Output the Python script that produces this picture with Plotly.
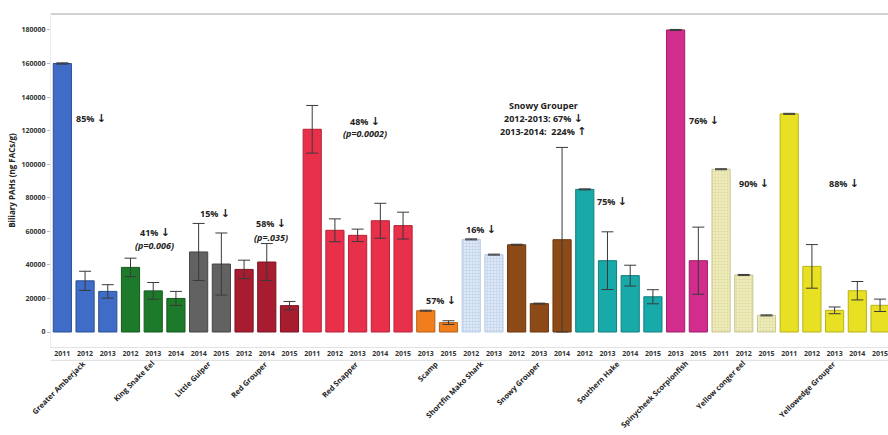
import plotly.graph_objects as go

species = ["Greater Amberjack", "King Snake Eel", "Little Gulper", "Red Grouper",
           "Red Snapper", "Scamp", "Shortfin Mako Shark", "Snowy Grouper",
           "Southern Hake", "Spinycheek Scorpionfish", "Yellow conger eel", "Yellowedge Grouper"]
years = [
    [2011, 2012, 2013],
    [2012, 2013, 2014],
    [2014, 2015],
    [2012, 2014, 2015],
    [2011, 2012, 2013, 2014, 2015],
    [2013, 2015],
    [2012, 2013],
    [2012, 2013, 2014],
    [2012, 2013, 2014, 2015],
    [2013, 2015],
    [2011, 2012, 2015],
    [2011, 2012, 2013, 2014, 2015],
]
values = [
    [160000, 30500, 24200],
    [38500, 24500, 20000],
    [47700, 40500],
    [37300, 41700, 15700],
    [120800, 60600, 57600, 66300, 63400],
    [12700, 5600],
    [55200, 46100],
    [52000, 16900, 55000],
    [85000, 42500, 33600, 21000],
    [180000, 42500],
    [97000, 34000, 9900],
    [130000, 39100, 12900, 24600, 15900],
]
errors = [
    [400, 5700, 4000],
    [5500, 5000, 4200],
    [17000, 18500],
    [5500, 11000, 2500],
    [14200, 6800, 3700, 10400, 8000],
    [300, 1100],
    [300, 300],
    [300, 300, 55000],
    [300, 17200, 6200, 4200],
    [300, 20000],
    [300, 300, 300],
    [300, 13000, 2000, 5500, 3700],
]
colors = ["#3f6cc6", "#1d7a2a", "#626262", "#a81c30", "#e8304a", "#f07e1e",
          "#dfe9f7", "#8e4a16", "#18a9a9", "#d22c8c", "#eeecb8", "#e8e022"]
edge = ["#2c4f96", "#145a1e", "#444444", "#7a1222", "#b82238", "#b85e14",
        "#b9cbe6", "#6a370f", "#117e7e", "#9c1f68", "#c9c690", "#b8b218"]
patterns = [None] * 12
patterns[6] = dict(shape=".", fgcolor="#9db9e0", bgcolor="#e6eef9", size=3, solidity=0.5)
patterns[10] = dict(shape=".", fgcolor="#cfca78", bgcolor="#f2f0c6", size=3, solidity=0.5)

fig = go.Figure()
tickvals, ticktext, centers = [], [], []
idx = 0
for i, sp in enumerate(species):
    xs = list(range(idx, idx + len(years[i])))
    idx += len(years[i])
    tickvals += xs
    ticktext += [str(y) for y in years[i]]
    centers.append(sum(xs) / len(xs))
    marker = dict(color=colors[i], line=dict(color=edge[i], width=1))
    if patterns[i]:
        marker["pattern"] = patterns[i]
    fig.add_trace(go.Bar(
        x=xs, y=values[i], width=0.8, marker=marker, showlegend=False,
        error_y=dict(type="data", array=errors[i], color="#3a3a3a", thickness=1, width=6),
    ))

font_main = "Open Sans"
fig.update_layout(
    width=888, height=435,
    margin=dict(l=51, r=0, t=14, b=88),
    plot_bgcolor="white", paper_bgcolor="white",
    font=dict(family=font_main, color="#222"),
    xaxis=dict(range=[-0.5, 36.35], tickvals=tickvals, ticktext=ticktext,
               tickangle=0, ticklabeloverflow="allow",
               tickfont=dict(size=7, family=font_main, weight="bold", color="#333"),
               showgrid=False, zeroline=False, ticks="", showline=True,
               linecolor="#e2e2e2", linewidth=1),
    yaxis=dict(range=[-8940, 189500], tickvals=list(range(0, 180001, 20000)),
               tickformat="d",
               tickfont=dict(size=7, family=font_main, weight="bold", color="#333"),
               ticks="outside", ticklen=3, tickcolor="#bbb",
               showgrid=False, zeroline=False, showline=True, linecolor="#ececec",
               title=dict(text="Biliary PAHs (ng FACs/g)", standoff=4,
                          font=dict(size=8, family=font_main, weight="bold", color="#222"))),
)
# top frame line and lower band line
fig.add_shape(type="line", xref="paper", yref="paper", x0=0, x1=1, y0=1, y1=1,
              line=dict(color="#d2d2d2", width=2))
fig.add_shape(type="line", xref="paper", yref="paper", x0=0, x1=1, y0=-0.04, y1=-0.04,
              line=dict(color="#dcdcdc", width=1))

for i, sp in enumerate(species):
    fig.add_annotation(x=centers[i], y=-0.05, xref="x", yref="paper", text=sp,
                       showarrow=False, textangle=-45, xanchor="right", yanchor="top",
                       xshift=6, yshift=8,
                       font=dict(size=7.5, family=font_main, weight="bold", color="#222"))

DOWN = '<span style="font-family:DejaVu Sans;font-size:11px">↓</span>'
UP = '<span style="font-family:DejaVu Sans;font-size:11px">↑</span>'
notes = [
    (1.26, 127000, "85% " + DOWN),
    (4.07, 59000, "41% " + DOWN),
    (4.07, 51300, "<i>(p=0.006)</i>"),
    (6.72, 70900, "15% " + DOWN),
    (9.19, 64400, "58% " + DOWN),
    (9.19, 56600, "<i>(p=.035)</i>"),
    (13.33, 125700, "48% " + DOWN),
    (13.33, 118000, "<i>(p=0.0002)</i>"),
    (16.67, 18500, "57% " + DOWN),
    (18.44, 60800, "16% " + DOWN),
    (21.17, 134700, "Snowy Grouper"),
    (21.17, 127000, "2012-2013: 67% " + DOWN),
    (21.17, 119200, "2013-2014:  224% " + UP),
    (24.2, 77500, "75% " + DOWN),
    (28.26, 126300, "76% " + DOWN),
    (30.46, 88200, "90% " + DOWN),
    (34.43, 88200, "88% " + DOWN),
]
for x, y, t in notes:
    fig.add_annotation(x=x, y=y, text=t, showarrow=False,
                       font=dict(size=9, family=font_main, weight="bold", color="#222"))

fig.write_html("out.html")
